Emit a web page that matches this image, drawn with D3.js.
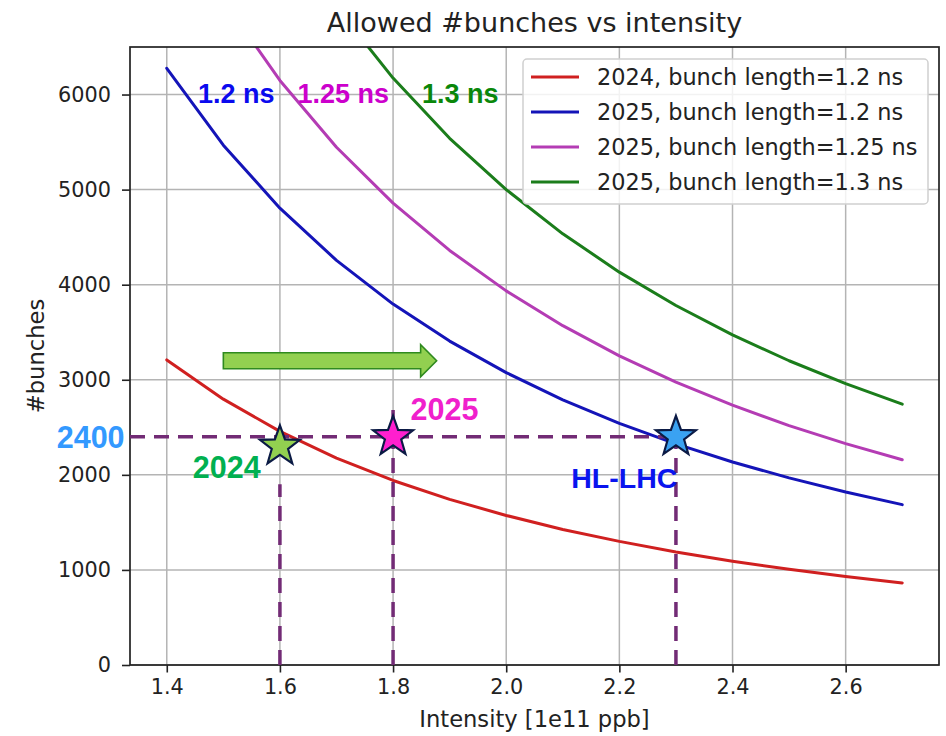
<!DOCTYPE html>
<html>
<head>
<meta charset="utf-8">
<script src="https://cdn.jsdelivr.net/npm/d3@7"></script>
<style>
  html, body { margin: 0; padding: 0; background: #fff; }
  svg { display: block; }
</style>
</head>
<body>
<svg id="chart" width="946" height="736"></svg>
<script>
// Bunch intensity grid [1e11 ppb]
const intensity = [1.4, 1.5, 1.6, 1.7, 1.8, 1.9, 2.0, 2.1, 2.2, 2.3, 2.4, 2.5, 2.6, 2.7];

// Allowed number of bunches for each case
const bunches2024_120 = [3209, 2796, 2457, 2176, 1941, 1742, 1573, 1426, 1300, 1189, 1092, 1006, 930, 863];
const bunches2025_120 = [6276, 5467, 4805, 4256, 3796, 3407, 3075, 2789, 2541, 2325, 2135, 1968, 1820, 1687];
const bunches2025_125 = [8031, 6996, 6148, 5446, 4858, 4360, 3935, 3569, 3252, 2975, 2733, 2518, 2328, 2159];
const bunches2025_130 = [10204, 8889, 7813, 6920, 6173, 5540, 5000, 4535, 4132, 3781, 3472, 3200, 2959, 2743];

const seriesLabels = [
  "2024, bunch length=1.2 ns",
  "2025, bunch length=1.2 ns",
  "2025, bunch length=1.25 ns",
  "2025, bunch length=1.3 ns"
];
const seriesColors = ["#d02020", "#1414b8", "#b43cb4", "#1b7d1b"];

const xTicks = [1.4, 1.6, 1.8, 2.0, 2.2, 2.4, 2.6];
const yTicks = [0, 1000, 2000, 3000, 4000, 5000, 6000];

// Operating points: [intensity, bunches]
const target2400 = 2400;
const point2024 = [1.6, 2300];
const point2025 = [1.8, 2400];
const pointHL = [2.3, 2400];

const series = [bunches2024_120, bunches2025_120, bunches2025_125, bunches2025_130];

const svg = d3.select("#chart");
const plot = { left: 130, right: 939, top: 47, bottom: 665 };

const x = d3.scaleLinear().domain([1.335, 2.765]).range([plot.left, plot.right]);
const y = d3.scaleLinear().domain([0, 6500]).range([plot.bottom, plot.top]);

const mplFont = "'DejaVu Sans', sans-serif";
const boldFont = "'Liberation Sans', Arial, sans-serif";
const tickSize = "20.8px";
const labelSize = "22.6px";

svg.append("defs").append("clipPath").attr("id", "plot-clip")
  .append("rect")
  .attr("x", plot.left).attr("y", plot.top)
  .attr("width", plot.right - plot.left).attr("height", plot.bottom - plot.top);

// Grid
const grid = svg.append("g").attr("stroke", "#b4b4b4").attr("stroke-width", 1.5);
xTicks.forEach(t => grid.append("line")
  .attr("x1", x(t)).attr("x2", x(t)).attr("y1", plot.top).attr("y2", plot.bottom));
yTicks.forEach(t => grid.append("line")
  .attr("x1", plot.left).attr("x2", plot.right).attr("y1", y(t)).attr("y2", y(t)));

// Curves
const line = d3.line().x((d, i) => x(intensity[i])).y(d => y(d));
const curves = svg.append("g").attr("clip-path", "url(#plot-clip)");
series.forEach((s, i) => {
  curves.append("path")
    .attr("d", line(s))
    .attr("fill", "none")
    .attr("stroke", seriesColors[i])
    .attr("stroke-width", 3)
    .attr("stroke-linejoin", "round")
    .attr("stroke-linecap", "round");
});

// Axes
const xAxis = svg.append("g").attr("transform", `translate(0,${plot.bottom})`)
  .call(d3.axisBottom(x).tickValues(xTicks).tickFormat(d3.format(".1f")).tickSizeOuter(0).tickSize(7.5).tickPadding(7));
const yAxis = svg.append("g").attr("transform", `translate(${plot.left},0)`)
  .call(d3.axisLeft(y).tickValues(yTicks).tickFormat(d3.format("d")).tickSizeOuter(0).tickSize(8).tickPadding(11));
[xAxis, yAxis].forEach(a => {
  a.select(".domain").remove();
  a.selectAll(".tick line").attr("stroke", "#222").attr("stroke-width", 1.6);
  a.selectAll(".tick text").attr("fill", "#222").style("font-family", mplFont).style("font-size", tickSize);
});

// Frame
svg.append("rect")
  .attr("x", plot.left).attr("y", plot.top)
  .attr("width", plot.right - plot.left).attr("height", plot.bottom - plot.top)
  .attr("fill", "none").attr("stroke", "#222").attr("stroke-width", 1.7);

// Title and axis labels
svg.append("text").attr("x", (plot.left + plot.right) / 2).attr("y", 32)
  .attr("text-anchor", "middle").attr("fill", "#222")
  .style("font-family", mplFont).style("font-size", "27px")
  .text("Allowed #bunches vs intensity");
svg.append("text").attr("x", (plot.left + plot.right) / 2).attr("y", 727)
  .attr("text-anchor", "middle").attr("fill", "#222")
  .style("font-family", mplFont).style("font-size", labelSize)
  .text("Intensity [1e11 ppb]");
svg.append("text")
  .attr("transform", `translate(44,${(plot.top + plot.bottom) / 2}) rotate(-90)`)
  .attr("text-anchor", "middle").attr("fill", "#222")
  .style("font-family", mplFont).style("font-size", labelSize)
  .text("#bunches");

// Legend
const legend = svg.append("g");
legend.append("rect")
  .attr("x", 523).attr("y", 59).attr("width", 405).attr("height", 145)
  .attr("rx", 4).attr("fill", "rgba(255,255,255,0.82)")
  .attr("stroke", "#d0d0d0").attr("stroke-width", 1.5);
seriesLabels.forEach((lab, i) => {
  const cy = 77 + i * 35;
  legend.append("line").attr("x1", 531).attr("x2", 579).attr("y1", cy).attr("y2", cy)
    .attr("stroke", seriesColors[i]).attr("stroke-width", 3);
  legend.append("text").attr("x", 597).attr("y", cy).attr("dy", "0.36em")
    .attr("fill", "#222").style("font-family", mplFont).style("font-size", "22.4px")
    .text(lab);
});

// Dashed guides
const guideColor = "#722b75";
const guides = svg.append("g").attr("stroke", guideColor).attr("stroke-width", 3.5)
  .attr("stroke-dasharray", "15,9").attr("fill", "none");
guides.append("line")
  .attr("x1", plot.left).attr("x2", x(pointHL[0]))
  .attr("y1", y(target2400)).attr("y2", y(target2400));
guides.append("line")
  .attr("x1", x(point2024[0])).attr("x2", x(point2024[0]))
  .attr("y1", y(0)).attr("y2", y(1900));
guides.append("line")
  .attr("x1", x(point2025[0])).attr("x2", x(point2025[0]))
  .attr("y1", y(0)).attr("y2", y(2700));
guides.append("line")
  .attr("x1", x(pointHL[0])).attr("x2", x(pointHL[0]))
  .attr("y1", y(0)).attr("y2", y(pointHL[1]));

// Progress arrow
const arrowFrom = 1.5, arrowTo = 1.877, arrowLevel = 3200;
const ax0 = x(arrowFrom), ax1 = x(arrowTo), ay = y(arrowLevel);
const headLen = 16, shaftHalf = 8, headHalf = 16;
svg.append("path")
  .attr("d", `M${ax0},${ay - shaftHalf} L${ax1 - headLen},${ay - shaftHalf} L${ax1 - headLen},${ay - headHalf} L${ax1},${ay} L${ax1 - headLen},${ay + headHalf} L${ax1 - headLen},${ay + shaftHalf} L${ax0},${ay + shaftHalf} Z`)
  .attr("fill", "#92d050").attr("stroke", "#2f8a1f").attr("stroke-width", 1.6);

// Star markers
function starPath(cx, cy, R, r) {
  const pts = [];
  for (let k = 0; k < 10; k++) {
    const a = -Math.PI / 2 + k * Math.PI / 5;
    const rad = k % 2 === 0 ? R : r;
    pts.push([cx + rad * Math.cos(a), cy + rad * Math.sin(a)]);
  }
  return "M" + pts.map(p => p.join(",")).join("L") + "Z";
}
[[point2024, "#92d050"], [point2025, "#ff1fce"], [pointHL, "#3aa2f2"]].forEach(([p, c]) => {
  svg.append("path")
    .attr("d", starPath(x(p[0]), y(p[1]), 21, 8.6))
    .attr("fill", c).attr("stroke", "#0b1a45").attr("stroke-width", 2.2)
    .attr("stroke-linejoin", "miter");
});

// Annotations
const notes = [
  { text: "1.2 ns", x: 1.455, y: 5910, color: "#0a0aee", size: 27 },
  { text: "1.25 ns", x: 1.631, y: 5910, color: "#cc00cc", size: 27 },
  { text: "1.3 ns", x: 1.851, y: 5910, color: "#0a870a", size: 27 },
  { text: "2400", x: 1.2055, y: 2282, color: "#3399ff", size: 30.5 },
  { text: "2024", x: 1.446, y: 1966, color: "#00b050", size: 30.5 },
  { text: "2025", x: 1.831, y: 2576, color: "#f020cc", size: 30.5 },
  { text: "HL-LHC", x: 2.115, y: 1861, color: "#0a14ee", size: 28.5 }
];
notes.forEach(n => {
  svg.append("text").attr("x", x(n.x)).attr("y", y(n.y))
    .attr("fill", n.color)
    .style("font-family", boldFont).style("font-weight", "bold")
    .style("font-size", n.size + "px")
    .text(n.text);
});
</script>
</body>
</html>
